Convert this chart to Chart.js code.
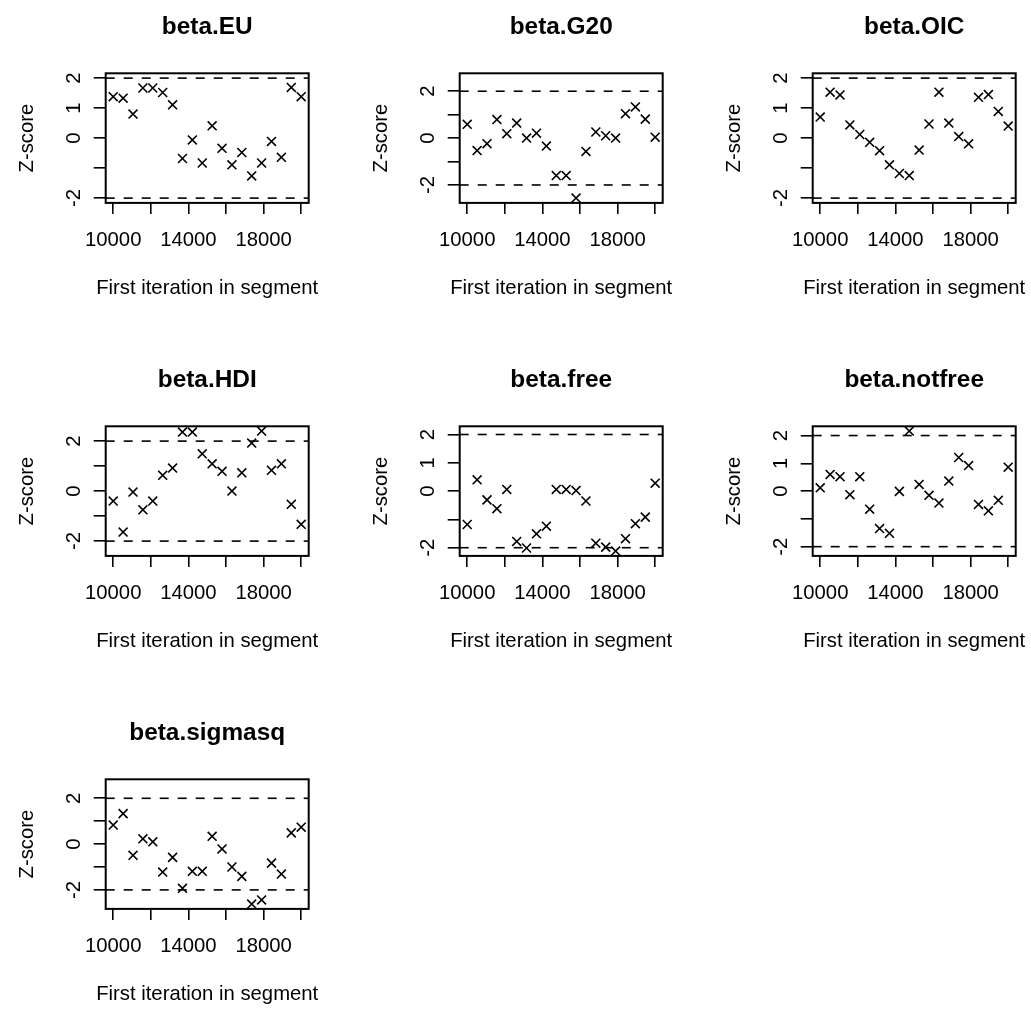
<!DOCTYPE html>
<html><head><meta charset="utf-8">
<script src="https://cdn.jsdelivr.net/npm/chart.js@4"></script>
<style>
html,body{margin:0;padding:0;background:#fff;overflow:hidden;width:1031px;height:1009px;}
#wrap{position:relative;width:1031px;height:1009px;overflow:hidden;background:#fff;}
canvas{position:absolute;}
</style></head><body><div id="wrap"></div>
<script>
// ---------- data ----------
const panelTitles = ['beta.EU','beta.G20','beta.OIC','beta.HDI','beta.free','beta.notfree','beta.sigmasq'];
const segmentStarts = [10000,10526,11053,11579,12105,12632,13158,13684,14211,14737,
                       15263,15789,16316,16842,17368,17895,18421,18947,19474,20000];
const zEU      = [1.38,1.33,0.80,1.67,1.67,1.52,1.11,-0.68,-0.06,-0.83,0.41,-0.34,-0.89,-0.48,-1.26,-0.83,-0.11,-0.64,1.69,1.38];
const zG20     = [0.59,-0.53,-0.24,0.79,0.19,0.64,0.00,0.21,-0.34,-1.60,-1.60,-2.56,-0.57,0.26,0.10,0.00,1.04,1.33,0.81,0.04];
const zOIC     = [0.70,1.53,1.44,0.44,0.12,-0.14,-0.42,-0.89,-1.18,-1.25,-0.40,0.47,1.53,0.50,0.05,-0.19,1.36,1.45,0.89,0.40];
const zHDI     = [-0.40,-1.64,-0.04,-0.75,-0.40,0.63,0.92,2.36,2.36,1.49,1.09,0.79,0.00,0.73,1.92,2.40,0.83,1.09,-0.53,-1.33];
const zFree    = [-1.18,0.40,-0.31,-0.62,0.06,-1.78,-2.01,-1.51,-1.24,0.06,0.06,0.02,-0.35,-1.84,-1.98,-2.12,-1.68,-1.15,-0.92,0.28];
const zNotfree = [0.12,0.60,0.52,-0.13,0.52,-0.65,-1.35,-1.52,-0.01,2.16,0.24,-0.15,-0.43,0.36,1.21,0.92,-0.48,-0.71,-0.33,0.86];
const zSigmasq = [0.83,1.33,-0.49,0.23,0.10,-1.22,-0.58,-1.93,-1.19,-1.19,0.34,-0.21,-1.00,-1.41,-2.62,-2.44,-0.83,-1.31,0.49,0.74];
const panelSeries = [zEU, zG20, zOIC, zHDI, zFree, zNotfree, zSigmasq];

const xTicks = [10000,12000,14000,16000,18000,20000];
const xTickLabels = ['10000','14000','18000'];
const yTicks = [-2,-1,0,1,2];
const yTickLabelsWide = ['2','1','0','-2'];
const yTickLabelsNarrow = ['2','0','-2'];
const panelYLabels = [yTickLabelsWide, yTickLabelsNarrow, yTickLabelsWide, yTickLabelsNarrow,
                      yTickLabelsWide, yTickLabelsWide, yTickLabelsNarrow];
const refLines = [2,-2];
const xAxisTitle = 'First iteration in segment';
const yAxisTitle = 'Z-score';

// ---------- layout ----------
const FONT = "'Liberation Sans', Arial, Helvetica, sans-serif";
const CW = 353, CH = 352;
const colLeft = [0, 353.6, 707.2];
const rowTop = [0, 352.8, 705.6];
const XAXIS_H = 70;
const PAD = {left:105.7, top:73.3, right:CW-308.7, bottom:CH-202.9-XAXIS_H};

const rPlot = {
  id:'rPlot',
  beforeDatasetsDraw(chart){
    const ctx = chart.ctx, a = chart.chartArea, ys = chart.scales.y;
    ctx.save();
    ctx.strokeStyle = '#000'; ctx.lineWidth = 1.6; ctx.setLineDash([9,9]);
    refLines.forEach(v=>{
      const y = ys.getPixelForValue(v);
      ctx.beginPath(); ctx.moveTo(a.left, y); ctx.lineTo(a.right, y); ctx.stroke();
    });
    ctx.restore();
  },
  afterDraw(chart, args, opts){
    const ctx = chart.ctx, a = chart.chartArea, ys = chart.scales.y;
    ctx.save();
    ctx.strokeStyle = '#000'; ctx.lineWidth = 2; ctx.setLineDash([]);
    ctx.strokeRect(a.left, a.top, a.right - a.left, a.bottom - a.top);
    ctx.fillStyle = '#000';
    const cx = (a.left + a.right)/2, cy = (a.top + a.bottom)/2;
    // title
    ctx.font = 'bold 24.4px ' + FONT; ctx.textAlign = 'center'; ctx.textBaseline = 'alphabetic';
    ctx.fillText(opts.title, cx, a.top - 39.8);
    // x title
    ctx.font = '20.3px ' + FONT;
    ctx.fillText(xAxisTitle, cx, a.bottom + 91.5);
    // y title
    ctx.save(); ctx.translate(a.left - 72.7, cy); ctx.rotate(-Math.PI/2);
    ctx.fillText(yAxisTitle, 0, 0); ctx.restore();
    // y tick labels
    opts.yLabels.forEach(l=>{
      const y = ys.getPixelForValue(Number(l));
      ctx.save(); ctx.translate(a.left - 25.5, y); ctx.rotate(-Math.PI/2);
      ctx.fillText(l, 0, 0); ctx.restore();
    });
    ctx.restore();
  }
};

const wrap = document.getElementById('wrap');
panelSeries.forEach((z, k)=>{
  const c = document.createElement('canvas');
  c.width = CW; c.height = CH;
  c.style.left = colLeft[k % 3] + 'px';
  c.style.top = rowTop[Math.floor(k / 3)] + 'px';
  c.style.width = CW + 'px'; c.style.height = CH + 'px';
  wrap.appendChild(c);
  const lim = Math.max(2, ...z.map(Math.abs)) * 1.08;
  new Chart(c, {
    type:'scatter',
    data:{datasets:[{
      data: segmentStarts.map((x,i)=>({x:x, y:z[i]})),
      pointStyle:'crossRot', pointRadius:6.3, pointHoverRadius:6.3,
      borderColor:'#000', backgroundColor:'#000', borderWidth:1.6, clip:false
    }]},
    options:{
      responsive:false, animation:false, events:[], devicePixelRatio:1,
      layout:{padding:PAD},
      plugins:{legend:{display:false}, tooltip:{enabled:false}, title:{display:false},
               rPlot:{title:panelTitles[k], yLabels:panelYLabels[k]}},
      scales:{
        x:{type:'linear', position:'bottom', min:9600, max:20400,
           afterFit:s=>{s.height=XAXIS_H;},
           afterBuildTicks:s=>{s.ticks = xTicks.map(v=>({value:v}));},
           grid:{drawOnChartArea:false, drawTicks:true, tickLength:11, color:'#000', lineWidth:1.6},
           border:{display:false},
           ticks:{autoSkip:false, maxRotation:0, minRotation:0, padding:14.3, color:'#000',
                  font:{family:FONT, size:20.3},
                  callback:v=> xTickLabels.includes(String(v)) ? String(v) : ''}},
        y:{type:'linear', position:'left', min:-lim, max:lim,
           afterFit:s=>{s.width=0;},
           afterBuildTicks:s=>{s.ticks = yTicks.map(v=>({value:v}));},
           grid:{drawOnChartArea:false, drawTicks:true, tickLength:12, color:'#000', lineWidth:1.6},
           border:{display:false},
           ticks:{display:false}}
      }
    },
    plugins:[rPlot]
  });
});
</script>
</body></html>
